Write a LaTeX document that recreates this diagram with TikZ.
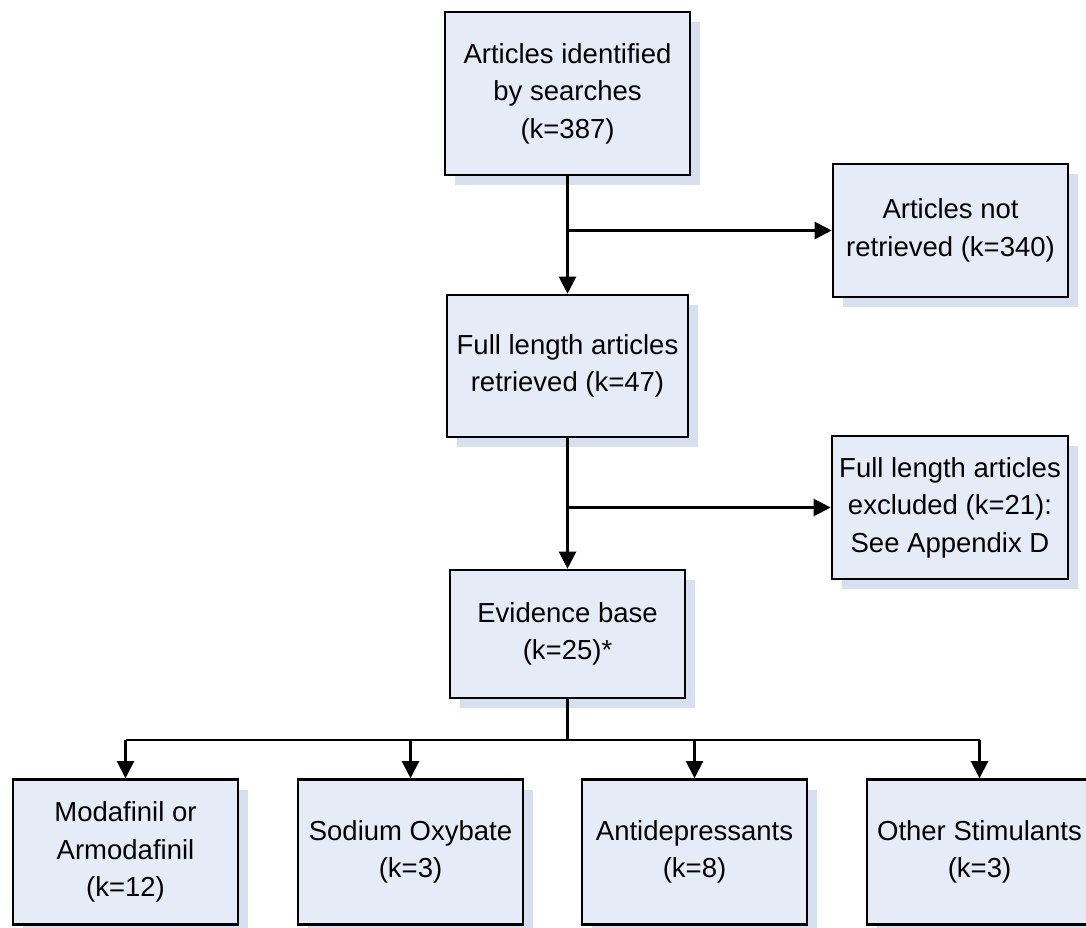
\documentclass[tikz,border=0pt]{standalone}
\usepackage{fontspec}
\setmainfont{Liberation Sans}
\usetikzlibrary{shadows,arrows.meta}
\definecolor{boxfill}{RGB}{230,236,247}
\definecolor{shadowc}{RGB}{215,224,241}
\tikzset{
  fbox/.style={draw=black, line width=2.6pt, fill=boxfill, align=center,
    inner sep=0pt, font=\fontsize{27.5}{37.5}\selectfont,
    general shadow={shadow xshift=10pt, shadow yshift=-10pt, fill=shadowc, draw=none}},
  conn/.style={line width=2.2pt, draw=black},
  arr/.style={conn, -{Triangle[length=17pt,width=17pt]}}
}
\begin{document}
\begin{tikzpicture}[x=1pt,y=-1pt]
\clip (0,0) rectangle (1086,928);
\fill[white] (0,0) rectangle (1086,928);
\node[fbox, minimum width=245pt, minimum height=163pt] (top) at (567.5,93.5)
  {Articles identified\\by searches\\(k=387)};
\node[fbox, minimum width=235pt, minimum height=133pt] (notret) at (950.5,230.5)
  {Articles not\\retrieved (k=340)};
\node[fbox, minimum width=241pt, minimum height=142pt] (full) at (567.5,366)
  {Full length articles\\retrieved (k=47)};
\node[fbox, minimum width=236pt, minimum height=143pt] (excl) at (950,507.5)
  {Full length articles\\excluded (k=21):\\See Appendix D};
\node[fbox, minimum width=235pt, minimum height=128pt] (evid) at (567.5,634)
  {Evidence base\\(k=25)*};
\node[fbox, minimum width=225pt, minimum height=145pt] (A) at (125.5,852)
  {Modafinil or\\Armodafinil\\(k=12)};
\node[fbox, minimum width=225pt, minimum height=145pt] (B) at (410.5,852)
  {Sodium Oxybate\\(k=3)};
\node[fbox, minimum width=225pt, minimum height=145pt] (C) at (694.5,852)
  {Antidepressants\\(k=8)};
\node[fbox, minimum width=225pt, minimum height=145pt] (D) at (979.5,852)
  {Other Stimulants\\(k=3)};
% connectors
\draw[arr] (top.south) -- (full.north);
\draw[arr] (top.south |- notret.west) -- (notret.west);
\draw[arr] (full.south) -- (evid.north);
\draw[arr] (full.south |- excl.west) -- (excl.west);
\coordinate (j) at (567.5,740);
\draw[conn] (evid.south) -- (j);
\draw[conn] (A.north |- j) -- (D.north |- j);
\draw[arr] (A.north |- j) -- (A.north);
\draw[arr] (B.north |- j) -- (B.north);
\draw[arr] (C.north |- j) -- (C.north);
\draw[arr] (D.north |- j) -- (D.north);
\end{tikzpicture}
\end{document}
